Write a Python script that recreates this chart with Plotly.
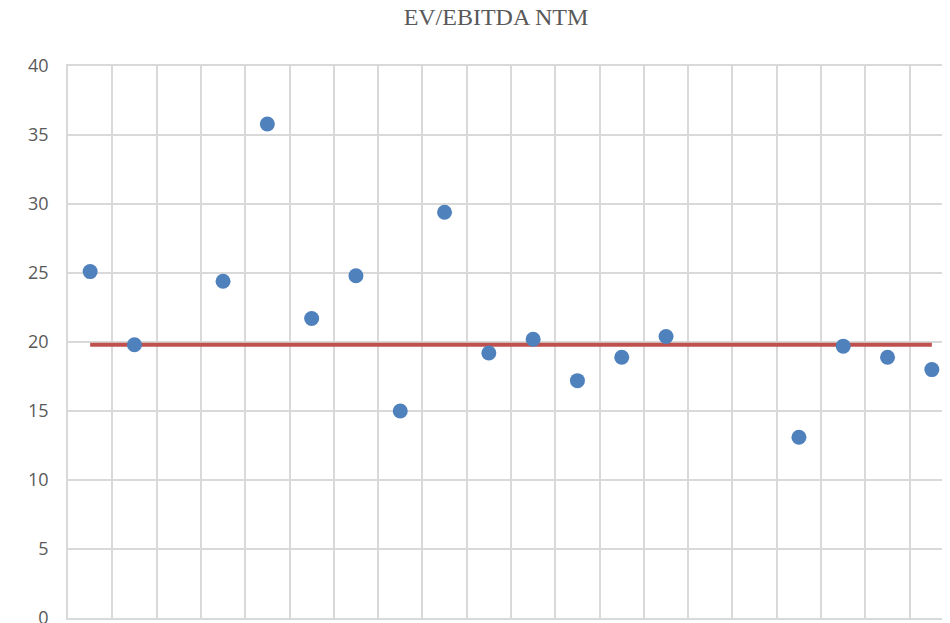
import plotly.graph_objects as go

# Data
categories = list(range(1, 21))
ev_ebitda = [25.1, 19.8, None, 24.4, 35.8, 21.7, 24.8, 15.0, 29.4, 19.2,
             20.2, 17.2, 18.9, 20.4, None, None, 13.1, 19.7, 18.9, 18.0]
median_value = 19.8
median_line = [median_value] * len(categories)
y_ticks = [0, 5, 10, 15, 20, 25, 30, 35, 40]

fig = go.Figure()
fig.add_trace(go.Scatter(
    x=categories, y=median_line, mode="lines",
    line=dict(color="#c0504d", width=4), hoverinfo="skip", showlegend=False))
fig.add_trace(go.Scatter(
    x=categories, y=ev_ebitda, mode="markers",
    marker=dict(color="#4f81bd", size=15, line=dict(width=0)), showlegend=False))

grid = "#d9d9d9"
fig.update_layout(
    width=942, height=622,
    margin=dict(l=60, r=0, t=58, b=12),
    plot_bgcolor="white", paper_bgcolor="white",
    title=dict(text="EV/EBITDA NTM", x=0.518, xanchor="center", y=1.0, yanchor="top",
               yref="container",
               font=dict(family="Liberation Serif", size=24, color="#595959")),
    xaxis=dict(range=[0.5, 20.41], tickvals=[i + 0.5 for i in range(0, 21)],
               showticklabels=False, showgrid=True, gridcolor=grid, gridwidth=1.5,
               zeroline=False, showline=True, linecolor=grid, linewidth=1.5,
               mirror=True, ticks=""),
    yaxis=dict(range=[0, 40], tickvals=y_ticks, showgrid=True, gridcolor=grid,
               gridwidth=1.5, zeroline=False, showline=True, linecolor=grid,
               linewidth=1.5, ticks="", ticklabelstandoff=14,
               tickfont=dict(family="Open Sans", size=18, color="#595959")),
)
fig.write_html("out.html")
